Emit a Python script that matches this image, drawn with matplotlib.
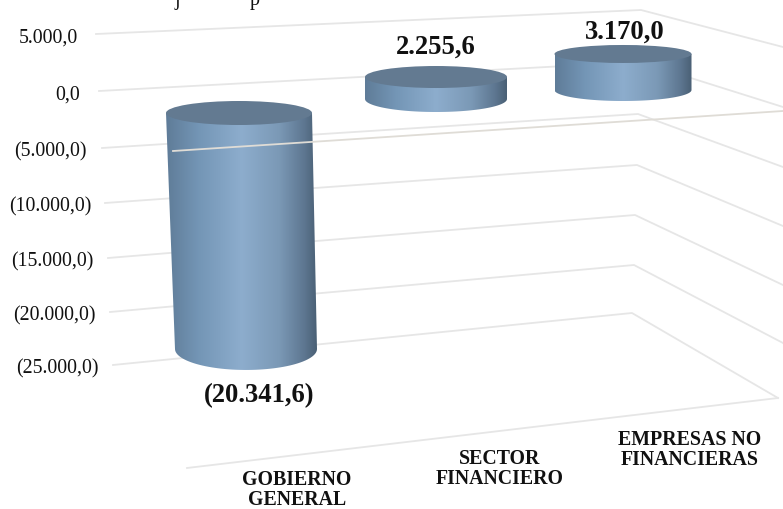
"""Cilindros 3D: saldo por sector, dibujado a mano sobre ejes en pixeles."""
import numpy as np
import matplotlib
matplotlib.use("Agg")
import matplotlib.pyplot as plt
from matplotlib.colors import LinearSegmentedColormap
from matplotlib.patches import Ellipse, PathPatch
from matplotlib.path import Path

categories = ["GOBIERNO\nGENERAL", "SECTOR\nFINANCIERO", "EMPRESAS NO\nFINANCIERAS"]
values = [-20341.6, 2255.6, 3170.0]
value_labels = ["(20.341,6)", "2.255,6", "3.170,0"]
tick_values = [5000, 0, -5000, -10000, -15000, -20000, -25000]
tick_labels = ["5.000,0", "0,0", "(5.000,0)", "(10.000,0)", "(15.000,0)", "(20.000,0)", "(25.000,0)"]

W, H = 783, 510
GRID = "#e6e6e6"
TOP = "#637a91"
INK = "#111111"
CMAP = LinearSegmentedColormap.from_list(
    "cyl", [(0, "#5f7c98"), (0.22, "#7496b6"), (0.5, "#8dadcd"), (0.75, "#7b99b6"), (0.92, "#5d7690"), (1, "#4a6075")])

# geometria de la perspectiva, extremos de cada linea de rejilla (pixeles)
WALL_LEFT_X = [96, 99, 102, 105, 108, 110, 113]
WALL_LEFT_Y = [35, 92, 149, 204, 259, 313, 366]
WALL_RIGHT_X = [641, 640, 638, 637, 635, 634, 632]
WALL_RIGHT_Y = [11, 63, 115, 166, 216, 266, 314]
SIDE_END_X = [783, 783, 783, 783, 783, 783, 778]
SIDE_END_Y = [48, 108, 168, 227, 286, 344, 399]
TICK_RIGHT = [78, 80, 87, 91, 93, 96, 99]

# por categoria: centro x, semiejes, y del cero, pixeles por unidad
CX_TOP = [239, 436, 623]
CX_BASE = [246, 436, 623]
HALF_W_TOP = [73, 71, 68.5]
HALF_W_BASE = [71, 71, 68.5]
B_TOP = [12, 11, 9]
B_BASE = [21, 13, 11]
Y_ZERO = [114, 100, 91]
PX_PER_UNIT = [0.0116, 0.00975, 0.01136]


def draw_cylinder(ax, i, value):
    y_a = Y_ZERO[i] - PX_PER_UNIT[i] * max(value, 0)
    y_b = Y_ZERO[i] - PX_PER_UNIT[i] * min(value, 0)
    cx1, cx2 = CX_TOP[i], CX_BASE[i]
    a1, a2 = HALF_W_TOP[i], HALF_W_BASE[i]
    t = np.linspace(0, np.pi, 60)
    xs = np.r_[cx1 - a1, cx2 + a2 * np.cos(t[::-1]), cx1 + a1]
    ys = np.r_[y_a, y_b + B_BASE[i] * np.sin(t[::-1]), y_a]
    path = Path(np.column_stack([xs, ys]))
    left, right = min(cx1 - a1, cx2 - a2), max(cx1 + a1, cx2 + a2)
    grad = np.linspace(0, 1, 256).reshape(1, -1)
    im = ax.imshow(grad, cmap=CMAP, extent=(left, right, y_b + B_BASE[i] + 1, y_a - 1),
                   aspect="auto", zorder=3, interpolation="bilinear")
    patch = PathPatch(path, facecolor="none", edgecolor="none", zorder=3)
    ax.add_patch(patch)
    im.set_clip_path(patch)
    ax.add_patch(Ellipse((cx1, y_a), 2 * a1, 2 * B_TOP[i], facecolor=TOP, edgecolor="none", zorder=4))


fig = plt.figure(figsize=(W / 100, H / 100), dpi=100, facecolor="white")
ax = fig.add_axes([0, 0, 1, 1])
SERIF = "Liberation Serif"

# rejilla: pared del fondo y pared lateral
for k in range(len(tick_values)):
    ax.plot([WALL_LEFT_X[k], WALL_RIGHT_X[k], SIDE_END_X[k]],
            [WALL_LEFT_Y[k], WALL_RIGHT_Y[k], SIDE_END_Y[k]], color=GRID, lw=1.3, zorder=1)
    ax.text(TICK_RIGHT[k], WALL_LEFT_Y[k] + 3, tick_labels[k], ha="right", va="center",
            fontsize=14.3, family=SERIF, color=INK)
# suelo
ax.plot([187, 778], [469, 399], color=GRID, lw=1.3, zorder=1)

for i, v in enumerate(values):
    draw_cylinder(ax, i, v)

# linea del cero, pasa por encima del primer cilindro
ax.plot([173, 783], [152, 112], color="#dfdcd6", lw=1.3, zorder=5)

label_cx = [259, 436, 625]
label_cy = [396, 47, 32]
for x, y, s in zip(label_cx, label_cy, value_labels):
    ax.text(x, y, s, ha="center", va="center", fontsize=19.2, fontweight="bold", family=SERIF, color=INK)

cat_x = [297, 500, 690]
cat_y = [490, 469, 450]
for x, y, c in zip(cat_x, cat_y, categories):
    ax.text(x, y, c, ha="center", va="center", fontsize=14.3, fontweight="bold", linespacing=1.0,
            family=SERIF, color=INK)

# titulo recortado por el borde superior, solo asoman los descendentes
ax.text(177, 5, "j", ha="center", va="baseline", fontsize=14.3, family=SERIF, color=INK)
ax.text(255, 5, "p", ha="center", va="baseline", fontsize=14.3, family=SERIF, color=INK)

ax.set_xlim(0, W)
ax.set_ylim(H, 0)
ax.axis("off")
fig.savefig("out.png", dpi=100, facecolor="white")
